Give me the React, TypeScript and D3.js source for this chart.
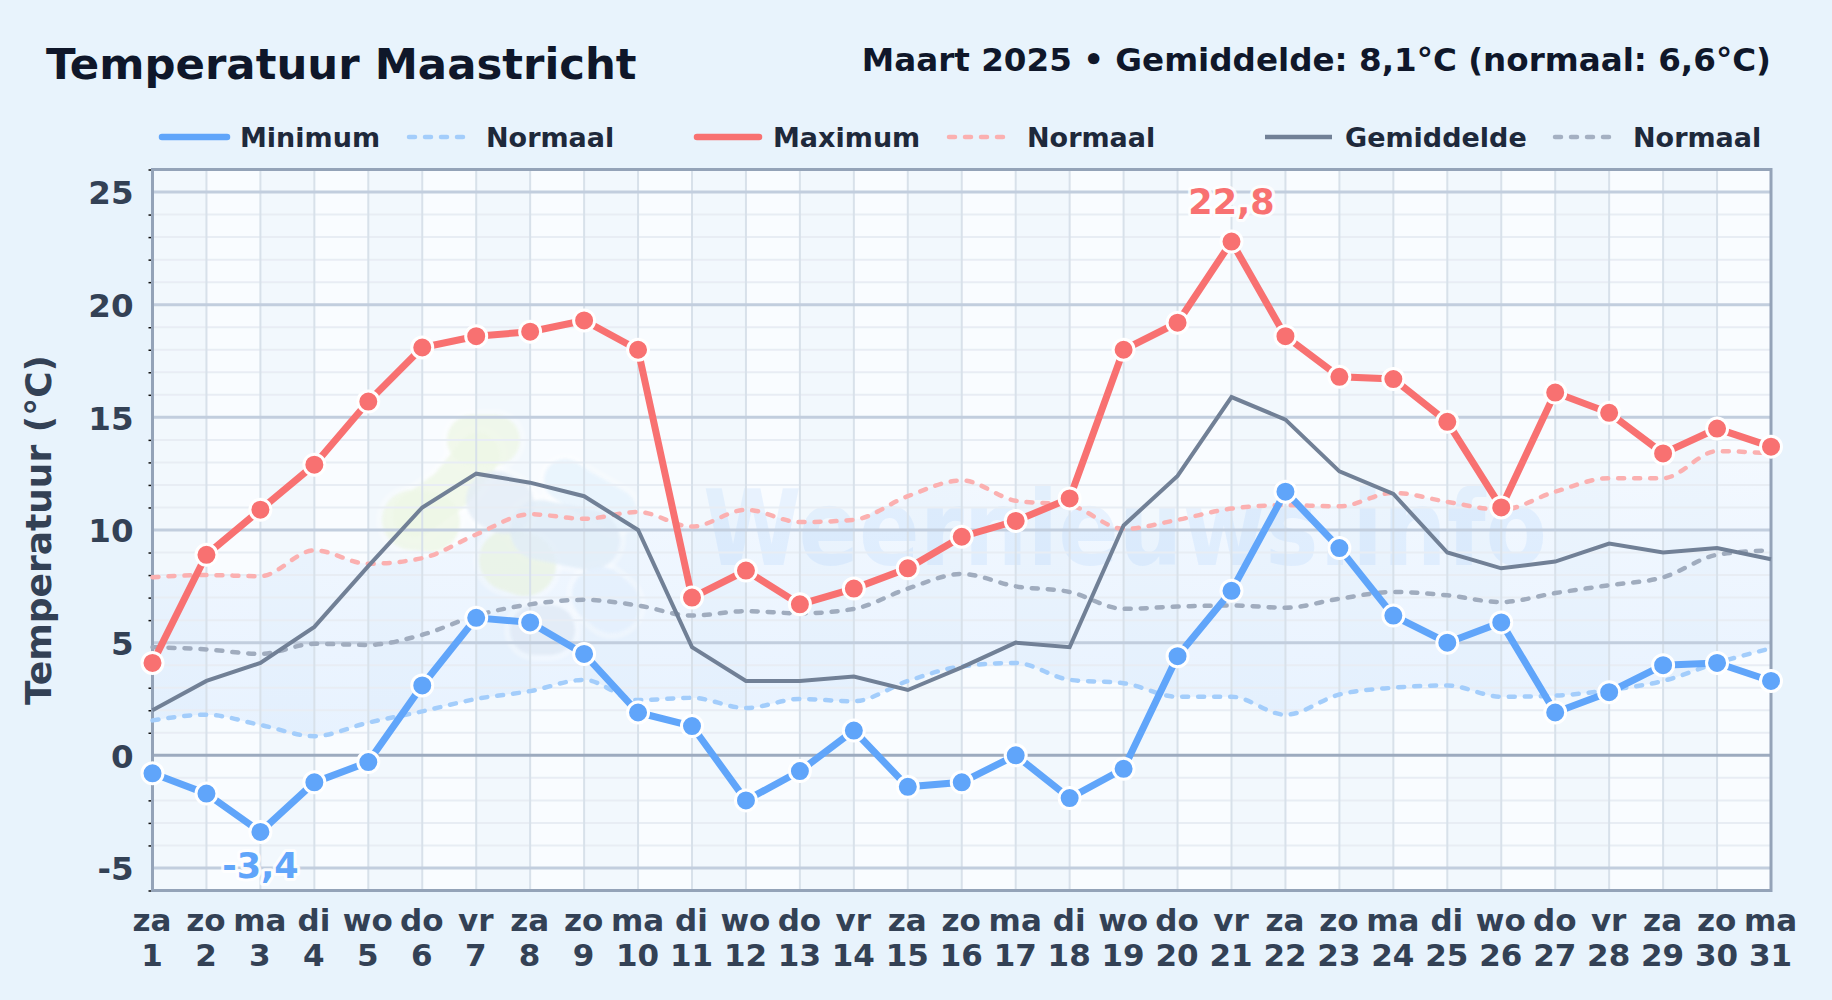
import { useRef, useEffect } from 'react'
import * as d3 from 'd3'

const dayNames = ['za', 'zo', 'ma', 'di', 'wo', 'do', 'vr', 'za', 'zo', 'ma', 'di', 'wo', 'do', 'vr', 'za', 'zo', 'ma', 'di', 'wo', 'do', 'vr', 'za', 'zo', 'ma', 'di', 'wo', 'do', 'vr', 'za', 'zo', 'ma']
const days = d3.range(1, 32)

const maxTemp = [4.1, 8.9, 10.9, 12.9, 15.7, 18.1, 18.6, 18.8, 19.3, 18.0, 7.0, 8.2, 6.7, 7.4, 8.3, 9.7, 10.4, 11.4, 18.0, 19.2, 22.8, 18.6, 16.8, 16.7, 14.8, 11.0, 16.1, 15.2, 13.4, 14.5, 13.7]
const minTemp = [-0.8, -1.7, -3.4, -1.2, -0.3, 3.1, 6.1, 5.9, 4.5, 1.9, 1.3, -2.0, -0.7, 1.1, -1.4, -1.2, 0.0, -1.9, -0.6, 4.4, 7.3, 11.7, 9.2, 6.2, 5.0, 5.9, 1.9, 2.8, 4.0, 4.1, 3.3]
const meanTemp = [2.0, 3.3, 4.1, 5.7, 8.4, 11.0, 12.5, 12.1, 11.5, 10.0, 4.8, 3.3, 3.3, 3.5, 2.9, 3.9, 5.0, 4.8, 10.2, 12.4, 15.9, 14.9, 12.6, 11.6, 9.0, 8.3, 8.6, 9.4, 9.0, 9.2, 8.7]
const normalMax = [7.9, 8.0, 7.95, 9.1, 8.5, 8.75, 9.8, 10.7, 10.5, 10.8, 10.15, 10.9, 10.35, 10.45, 11.5, 12.2, 11.3, 11.1, 10.05, 10.45, 10.95, 11.1, 11.05, 11.65, 11.25, 10.9, 11.7, 12.3, 12.3, 13.5, 13.4]
const normalMean = [4.8, 4.7, 4.5, 4.95, 4.9, 5.35, 6.2, 6.7, 6.9, 6.65, 6.2, 6.4, 6.3, 6.5, 7.4, 8.05, 7.5, 7.25, 6.5, 6.6, 6.65, 6.55, 6.95, 7.25, 7.1, 6.8, 7.2, 7.55, 7.9, 8.9, 9.1]
const normalMin = [1.55, 1.8, 1.35, 0.85, 1.45, 1.95, 2.5, 2.85, 3.35, 2.45, 2.55, 2.1, 2.5, 2.4, 3.3, 3.95, 4.1, 3.35, 3.2, 2.6, 2.6, 1.8, 2.7, 3.0, 3.1, 2.6, 2.65, 2.9, 3.3, 4.1, 4.75]

const majorTicks = [-5, 0, 5, 10, 15, 20, 25]
const minorTicks = d3.range(-6, 27).filter(d => d % 5 !== 0)

const FONT = '"DejaVu Sans", sans-serif'
const BLUE = '#60a5fa'
const RED = '#f87171'
const GREY = '#718096'

// logo blobs behind the chart: path, colour, width
const blobs: [string, string, number][] = [
  ['M472,440 L495,440', '#eef6e6', 50],
  ['M478,455 L450,490 L415,515', '#eef6e6', 44],
  ['M412,520 L430,522', '#eef6e6', 60],
  ['M510,560 L525,565', '#e9f3e4', 62],
  ['M565,480 L580,490 L615,510', '#e6f2fd', 42],
  ['M495,500 L505,505', '#e3ecf6', 58],
  ['M540,530 L590,540', '#e0ecf8', 60],
  ['M600,595 L612,605', '#e2effc', 56],
  ['M535,630 L550,630', '#dfe9f5', 50],
]

export default function App() {
  const svgRef = useRef<SVGSVGElement>(null)

  useEffect(() => {
    if (!svgRef.current) return
    const svg = d3.select(svgRef.current)
    svg.selectAll('*').remove()

    const left = 152.5, right = 1771, top = 169.5, bottom = 890.5
    const x = d3.scaleLinear().domain([1, 31]).range([left, right])
    const y = d3.scaleLinear().domain([-6, 26]).range([bottom, top])

    svg.append('rect').attr('width', 1832).attr('height', 1000).attr('fill', '#e8f3fc')

    // Header
    svg.append('text').attr('x', 46).attr('y', 79)
      .style('font', `bold 43.4px ${FONT}`).attr('fill', '#0f172a')
      .text('Temperatuur Maastricht')
    svg.append('text').attr('x', 1771).attr('y', 71).attr('text-anchor', 'end')
      .style('font', `bold 32.6px ${FONT}`).attr('fill', '#0f172a')
      .text('Maart 2025 • Gemiddelde: 8,1°C (normaal: 6,6°C)')

    // Legend
    const legend: [number, number, number, string, string, number, number][] = [
      [162, 227, 240, 'Minimum', BLUE, 6.5, 0],
      [409, 463, 486, 'Normaal', '#a3cdfb', 4.5, 1],
      [697, 759, 773, 'Maximum', RED, 6.5, 0],
      [949, 1005, 1027, 'Normaal', '#fbb0b0', 4.5, 1],
      [1265, 1332, 1345, 'Gemiddelde', GREY, 4.5, 0],
      [1555, 1618, 1633, 'Normaal', '#a4b0c2', 4.5, 1],
    ]
    legend.forEach(([x1, x2, tx, label, color, w, dashed]) => {
      svg.append('line').attr('x1', x1).attr('x2', x2).attr('y1', 137).attr('y2', 137)
        .attr('stroke', color).attr('stroke-width', w)
        .attr('stroke-linecap', color === GREY ? 'butt' : 'round')
        .attr('stroke-dasharray', dashed ? '6,10' : null)
      svg.append('text').attr('x', tx).attr('y', 146.5)
        .style('font', `bold 27px ${FONT}`).attr('fill', '#1e293b').text(label)
    })

    // Plot background with alternating day bands
    svg.append('rect').attr('x', left).attr('y', top)
      .attr('width', right - left).attr('height', bottom - top).attr('fill', '#f9fcff')
    days.filter(d => d % 2 === 1 && d < 31).forEach(d => {
      svg.append('rect').attr('x', x(d)).attr('y', top)
        .attr('width', x(d + 1) - x(d)).attr('height', bottom - top)
        .attr('fill', '#edf4fb').attr('opacity', 0.55)
    })

    // Band between the normals
    const grad = svg.append('defs').append('linearGradient')
      .attr('id', 'normalBand').attr('x1', 0).attr('x2', 0).attr('y1', 0).attr('y2', 1)
    grad.append('stop').attr('offset', '0%').attr('stop-color', '#bfdbfe').attr('stop-opacity', 0.1)
    grad.append('stop').attr('offset', '100%').attr('stop-color', '#bfdbfe').attr('stop-opacity', 0.3)
    const bandArea = d3.area<number>()
      .x((_, i) => x(days[i]))
      .y0((_, i) => y(normalMin[i]))
      .y1(d => y(d))
      .curve(d3.curveMonotoneX)
    svg.append('path').datum(normalMax).attr('d', bandArea).attr('fill', 'url(#normalBand)')

    // Watermark
    const wm = svg.append('g').style('filter', 'blur(1.5px)')
    blobs.forEach(([d, , w]) => {
      wm.append('path').attr('d', d).attr('fill', 'none').attr('stroke', '#ffffff')
        .attr('stroke-opacity', 0.3).attr('stroke-width', w + 12)
        .attr('stroke-linecap', 'round').attr('stroke-linejoin', 'round')
    })
    blobs.forEach(([d, color, w]) => {
      wm.append('path').attr('d', d).attr('fill', 'none').attr('stroke', color)
        .attr('stroke-width', w).attr('stroke-opacity', 0.8)
        .attr('stroke-linecap', 'round').attr('stroke-linejoin', 'round')
    })
    svg.append('text').attr('x', 703).attr('y', 565)
      .attr('textLength', 844).attr('lengthAdjust', 'spacingAndGlyphs')
      .style('font', `bold 105px ${FONT}`).attr('fill', BLUE).attr('opacity', 0.1)
      .text('Weernieuws.info')

    // Grid lines
    svg.append('g').selectAll('line').data(minorTicks).join('line')
      .attr('x1', left).attr('x2', right).attr('y1', d => y(d)).attr('y2', d => y(d))
      .attr('stroke', '#e8edf4').attr('stroke-width', 2)
    svg.append('g').selectAll('line').data(days).join('line')
      .attr('x1', d => x(d)).attr('x2', d => x(d)).attr('y1', top).attr('y2', bottom)
      .attr('stroke', '#d8e1ea').attr('stroke-width', 2)
    svg.append('g').selectAll('line').data(majorTicks).join('line')
      .attr('x1', left).attr('x2', right).attr('y1', d => y(d)).attr('y2', d => y(d))
      .attr('stroke', d => d === 0 ? '#9dabbf' : '#c2cede').attr('stroke-width', 3)

    // Y axis
    const yAxis = svg.append('g').attr('transform', `translate(${left},0)`)
      .call(d3.axisLeft(y).tickValues(majorTicks).tickSize(0).tickPadding(19).tickFormat(d => String(d)))
    yAxis.select('.domain').remove()
    yAxis.selectAll('text').style('font', `bold 32.5px ${FONT}`).attr('fill', '#334155').attr('dy', '0.36em')
    const yMinor = svg.append('g').attr('transform', `translate(${left},0)`)
      .call(d3.axisLeft(y).tickValues(minorTicks).tickSize(4).tickFormat(() => ''))
    yMinor.select('.domain').remove()
    yMinor.selectAll('line').attr('stroke', '#111').attr('stroke-width', 1.5)

    svg.append('text')
      .attr('transform', `translate(51,${(top + bottom) / 2}) rotate(-90)`)
      .attr('text-anchor', 'middle')
      .style('font', `bold 36px ${FONT}`).attr('fill', '#334155')
      .text('Temperatuur (°C)')

    // X axis, day name above date
    const xAxis = svg.append('g').attr('transform', `translate(0,${bottom})`)
      .call(d3.axisBottom(x).tickValues(days).tickSize(0).tickFormat(() => ''))
    xAxis.select('.domain').remove()
    xAxis.selectAll<SVGTextElement, number>('text').each(function (d) {
      const t = d3.select(this).attr('y', null).attr('dy', null)
        .style('font', `bold 31px ${FONT}`).attr('fill', '#334155')
      t.append('tspan').attr('x', -1).attr('y', 40).text(dayNames[d - 1])
      t.append('tspan').attr('x', -1).attr('y', 75).text(d)
    })

    // Plot border
    svg.append('rect').attr('x', left).attr('y', top)
      .attr('width', right - left).attr('height', bottom - top)
      .attr('fill', 'none').attr('stroke', '#94a3b8').attr('stroke-width', 3)

    // Normals
    const smooth = d3.line<number>().x((_, i) => x(days[i])).y(d => y(d)).curve(d3.curveMonotoneX)
    const dashedSeries: [number[], string][] = [
      [normalMin, '#a3cdfb'],
      [normalMax, '#fbb0b0'],
      [normalMean, '#a0acbe'],
    ]
    dashedSeries.forEach(([values, color]) => {
      svg.append('path').datum(values).attr('d', smooth).attr('fill', 'none')
        .attr('stroke', color).attr('stroke-width', 4.5)
        .attr('stroke-linecap', 'round').attr('stroke-dasharray', '6,10')
    })

    // Measured series
    const straight = d3.line<number>().x((_, i) => x(days[i])).y(d => y(d))
    svg.append('path').datum(meanTemp).attr('d', straight).attr('fill', 'none')
      .attr('stroke', GREY).attr('stroke-width', 4)
    const measured: [number[], string][] = [[minTemp, BLUE], [maxTemp, RED]]
    measured.forEach(([values, color]) => {
      svg.append('path').datum(values).attr('d', straight).attr('fill', 'none')
        .attr('stroke', color).attr('stroke-width', 7)
      svg.append('g').selectAll('circle').data(values).join('circle')
        .attr('cx', (_, i) => x(days[i])).attr('cy', d => y(d)).attr('r', 10.5)
        .attr('fill', color).attr('stroke', '#fff').attr('stroke-width', 3)
    })

    // Extremes
    const labelExtreme = (value: number, series: number[], color: string, offset: number) => {
      const i = series.indexOf(value)
      svg.append('text').attr('x', x(days[i])).attr('y', y(value) + offset)
        .attr('text-anchor', 'middle')
        .style('font', `bold 35px ${FONT}`)
        .style('paint-order', 'stroke')
        .attr('fill', color).attr('stroke', '#fff').attr('stroke-width', 6)
        .attr('stroke-opacity', 0.85).attr('stroke-linejoin', 'round')
        .text(String(value).replace('.', ','))
    }
    labelExtreme(d3.max(maxTemp) as number, maxTemp, RED, -28)
    labelExtreme(d3.min(minTemp) as number, minTemp, BLUE, 46)
  }, [])

  return <svg ref={svgRef} width={1832} height={1000} style={{ position: 'absolute', left: 0, top: 0 }} />
}
